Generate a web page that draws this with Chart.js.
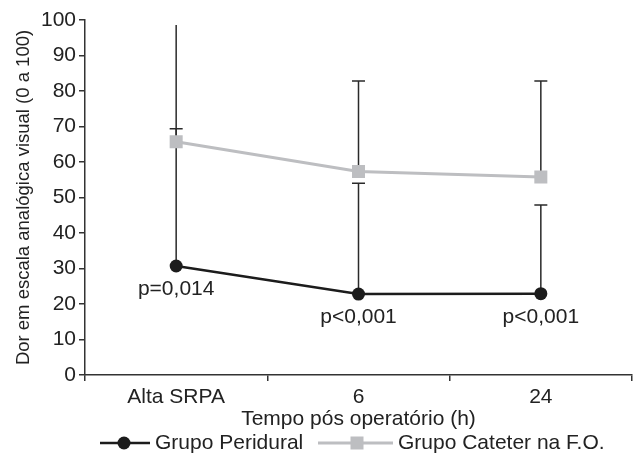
<!DOCTYPE html>
<html>
<head>
<meta charset="utf-8">
<script src="https://cdn.jsdelivr.net/npm/chart.js@4/dist/chart.umd.min.js"></script>
<style>
  html, body { margin: 0; padding: 0; background: #fff; }
  #wrap { width: 642px; height: 465px; }
</style>
</head>
<body>
<div id="wrap"><canvas id="chart"></canvas></div>
<script>
const categories = ['Alta SRPA', '6', '24'];
const peridural = [30.7, 22.8, 22.9];
const peridUpper = [69.4, 54.0, 47.9];
const cateter = [65.7, 57.3, 55.8];
const catUpper = [98.6, 82.8, 82.8];
const pValues = ['p=0,014', 'p<0,001', 'p<0,001'];
const yTicks = [0, 10, 20, 30, 40, 50, 60, 70, 80, 90, 100];

const FONT = 'Liberation Sans, Arial, sans-serif';
const BLACK = '#1c1c1c';
const GRAY = '#bdbec1';

// upper error bars, drawn under the markers
const errorBars = {
  id: 'errorBars',
  beforeDatasetsDraw(chart) {
    const ctx = chart.ctx;
    const y = chart.scales.y;
    const uppers = [peridUpper, catUpper];
    ctx.save();
    ctx.strokeStyle = '#2a2a2a';
    ctx.lineWidth = 1.5;
    chart.data.datasets.forEach((ds, i) => {
      chart.getDatasetMeta(i).data.forEach((pt, j) => {
        const top = y.getPixelForValue(uppers[i][j]);
        ctx.beginPath();
        ctx.moveTo(pt.x, pt.y);
        ctx.lineTo(pt.x, top);
        // no cap on the bar that reaches the top of the axis
        if (uppers[i][j] < 95) {
          ctx.moveTo(pt.x - 6.5, top);
          ctx.lineTo(pt.x + 6.5, top);
        }
        ctx.stroke();
      });
    });
    ctx.restore();
  }
};

const extras = {
  id: 'extras',
  afterDraw(chart) {
    const ctx = chart.ctx;
    ctx.save();
    ctx.font = '21px ' + FONT;
    ctx.fillStyle = '#222';
    ctx.textAlign = 'center';
    ctx.textBaseline = 'middle';
    // p values under the Peridural points
    chart.getDatasetMeta(0).data.forEach((pt, j) => {
      ctx.fillText(pValues[j], pt.x, pt.y + 23);
    });

    // legend
    const ly = 443;
    ctx.textAlign = 'left';
    ctx.lineWidth = 2.5;
    ctx.strokeStyle = BLACK;
    ctx.beginPath(); ctx.moveTo(100, ly); ctx.lineTo(150, ly); ctx.stroke();
    ctx.fillStyle = BLACK;
    ctx.beginPath(); ctx.arc(124, ly, 6.5, 0, Math.PI * 2); ctx.fill();
    ctx.fillStyle = '#222';
    ctx.fillText(chart.data.datasets[0].label, 155, ly);

    ctx.strokeStyle = GRAY;
    ctx.lineWidth = 3;
    ctx.beginPath(); ctx.moveTo(318, ly); ctx.lineTo(393, ly); ctx.stroke();
    ctx.fillStyle = GRAY;
    ctx.fillRect(357 - 6.5, ly - 6.5, 13, 13);
    ctx.fillStyle = '#222';
    ctx.fillText(chart.data.datasets[1].label, 398, ly);
    ctx.restore();
  }
};

new Chart(document.getElementById('chart'), {
  type: 'line',
  data: {
    labels: categories,
    datasets: [
      {
        label: 'Grupo Peridural',
        data: peridural,
        borderColor: BLACK,
        backgroundColor: BLACK,
        borderWidth: 2.5,
        pointStyle: 'circle',
        pointRadius: 6.5,
        pointBorderWidth: 0,
        tension: 0
      },
      {
        label: 'Grupo Cateter na F.O.',
        data: cateter,
        borderColor: GRAY,
        backgroundColor: GRAY,
        borderWidth: 3,
        pointStyle: 'rect',
        pointRadius: 9.2,
        pointBorderWidth: 0,
        tension: 0
      }
    ]
  },
  options: {
    responsive: true,
    maintainAspectRatio: false,
    animation: false,
    layout: { padding: { top: 20, right: 10, left: 0, bottom: 0 } },
    plugins: {
      legend: { display: false },
      tooltip: { enabled: false }
    },
    scales: {
      x: {
        offset: true,
        grid: {
          offset: true,
          drawOnChartArea: false,
          drawTicks: true,
          tickLength: 6,
          color: '#333',
          lineWidth: 1.5
        },
        border: { color: '#333', width: 1.5 },
        ticks: { color: '#222', font: { family: FONT, size: 21 }, padding: 4, maxRotation: 0 },
        title: {
          display: true,
          text: 'Tempo pós operatório (h)',
          color: '#222',
          font: { family: FONT, size: 21 },
          padding: { top: 0, bottom: 33 }
        },
        afterFit(scale) { scale.height = 90; }
      },
      y: {
        min: 0,
        max: 100,
        afterBuildTicks(scale) { scale.ticks = yTicks.map(v => ({ value: v })); },
        grid: {
          drawOnChartArea: false,
          drawTicks: true,
          tickLength: 6,
          color: '#333',
          lineWidth: 1.5
        },
        border: { color: '#333', width: 1.5 },
        ticks: { color: '#222', font: { family: FONT, size: 21 }, padding: 3 },
        title: {
          display: true,
          text: 'Dor em escala analógica visual (0 a 100)',
          color: '#222',
          font: { family: FONT, size: 18.5 },
          padding: { top: 13, bottom: 0 }
        },
        afterFit(scale) { scale.width = 85; }
      }
    }
  },
  plugins: [errorBars, extras]
});
</script>
</body>
</html>
